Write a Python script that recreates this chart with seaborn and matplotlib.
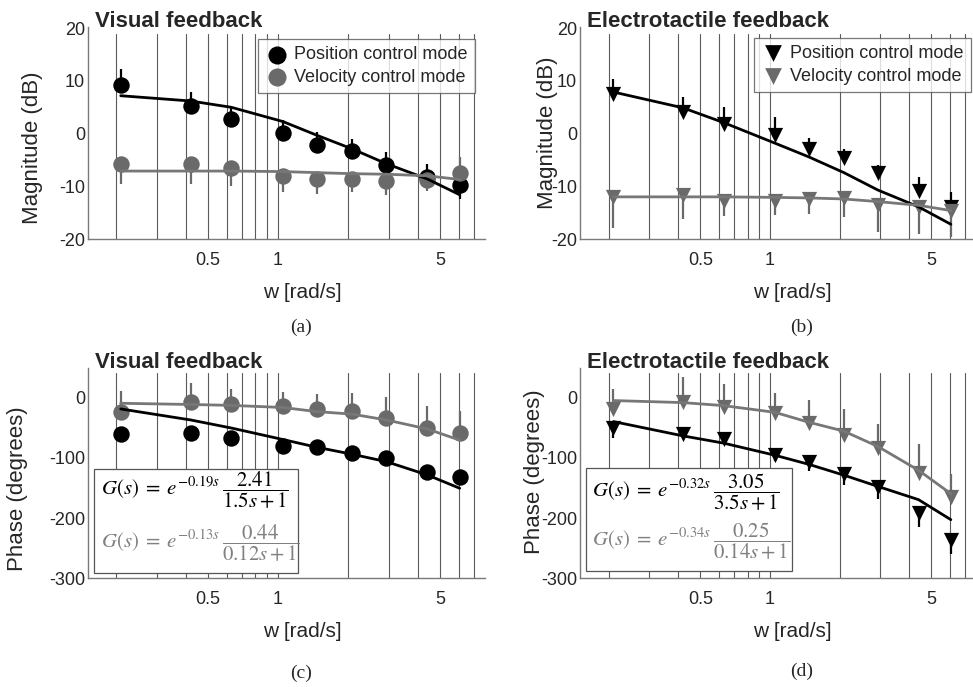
import matplotlib
matplotlib.use("Agg")
import matplotlib.pyplot as plt
import seaborn as sns
from matplotlib.patches import Rectangle

# test frequencies [rad/s]
w = [0.21, 0.42, 0.63, 1.05, 1.47, 2.09, 2.93, 4.40, 6.07]

# (a) visual feedback - magnitude [dB]
vis_mag_pos = [9.2, 5.2, 2.7, 0.1, -2.1, -3.3, -5.9, -8.3, -9.7]
vis_mag_pos_err = [3.1, 2.7, 2.1, 2.4, 2.4, 2.3, 2.4, 2.6, -2.7]
vis_mag_vel = [-5.7, -5.7, -6.5, -8.0, -8.7, -8.6, -8.9, -8.8, -7.5]
vis_mag_vel_err = [-3.8, -3.9, -3.5, -3.0, -2.8, -2.5, -2.7, -2.0, 3.0]
vis_mag_pos_fit = [7.2, 6.2, 5.0, 2.3, -0.3, -2.9, -5.7, -8.6, -11.6]
vis_mag_vel_fit = [-7.1, -7.1, -7.1, -7.2, -7.4, -7.6, -7.7, -8.0, -8.7]

# (b) electrotactile feedback - magnitude [dB]
el_mag_pos = [7.5, 4.1, 1.8, -0.3, -2.9, -4.6, -7.5, -10.8, -13.9]
el_mag_pos_err = [2.8, 2.8, 3.2, 3.4, 2.1, 1.7, 1.6, 2.5, 2.9]
el_mag_vel = [-12.1, -11.6, -12.7, -12.8, -12.4, -12.3, -13.5, -13.9, -14.6]
el_mag_vel_err = [-5.8, -4.6, -2.9, -2.6, -2.9, -3.6, -5.1, -5.1, -5.1]
el_mag_pos_fit = [7.9, 4.9, 2.1, -1.8, -4.4, -7.4, -10.7, -13.9, -17.2]
el_mag_vel_fit = [-12.0, -12.0, -12.0, -12.1, -12.2, -12.4, -12.9, -13.6, -14.6]

# (c) visual feedback - phase [deg]
vis_ph_pos = [-60.8, -58.6, -66.9, -80.6, -81.7, -91.7, -100.0, -124.0, -132.5]
vis_ph_vel = [-24.9, -8.3, -11.6, -14.4, -19.9, -22.7, -34.8, -50.3, -58.6]
vis_ph_vel_err = [36, 32, 25, 23, 26, 30, 36, 36, 35]
vis_ph_pos_fit = [-19.4, -37.6, -51.0, -70.0, -82.8, -94.4, -106.6, -128.6, -150.7]
vis_ph_vel_fit = [-10.0, -12.0, -13.5, -17.0, -23.8, -28.0, -37.6, -52.5, -71.0]

# (d) electrotactile feedback - phase [deg]
el_ph_pos = [-51.4, -60.8, -69.5, -96.0, -107.4, -126.6, -148.8, -191.7, -235.7]
el_ph_pos_err = [-16, -6, -6, -10, -14, -19, -19, -23, -23]
el_ph_vel = [-18.8, -7.8, -15.5, -25.6, -43.0, -61.7, -83.7, -125.6, -165.3]
el_ph_vel_err = [33, 41, 38, 32, 39, 42, 40, 49, 38]
el_ph_pos_fit = [-40.3, -64.0, -76.0, -96.0, -111.0, -129.0, -147.6, -169.6, -202.7]
el_ph_vel_fit = [-5.5, -8.9, -13.9, -25.0, -41.3, -56.2, -81.5, -121.0, -159.7]

grid_w = [0.2, 0.3, 0.4, 0.5, 0.6, 0.7, 0.8, 0.9, 1, 2, 3, 4, 5, 6, 7]

BLACK = "#000000"
GRAY = "#6a6a6a"
GRAY_LINE = "#777777"

sns.set_theme(style="white")
plt.rcParams["font.family"] = ["Liberation Sans", "DejaVu Sans"]
plt.rcParams["mathtext.fontset"] = "stix"
plt.rcParams["axes.unicode_minus"] = False

fig = plt.figure(figsize=(9.73, 6.87), dpi=100)
ax_a = fig.add_axes([0.0904, 0.6521, 0.408, 0.309])
ax_b = fig.add_axes([0.5961, 0.6521, 0.4039, 0.309])
ax_c = fig.add_axes([0.0904, 0.158, 0.408, 0.306])
ax_d = fig.add_axes([0.5961, 0.158, 0.4039, 0.306])


def errbars(ax, y, err, color):
    if err is None:
        return
    ax.vlines(w, y, [a + b for a, b in zip(y, err)], color=color, lw=1.6, zorder=2)


def panel(ax, title, marker, pos, pos_err, vel, vel_err, pos_fit, vel_fit,
          ylim, yticks, ylabel, xlim, grid_top, label_x, label_y):
    ax.set_xscale("log")
    for g in grid_w:
        ax.axvline(g, ymax=grid_top, color="#5a5a5a", lw=0.8, zorder=0.5)
    errbars(ax, pos, pos_err, BLACK)
    errbars(ax, vel, vel_err, GRAY)
    ms = 140 if marker == "o" else 120
    sns.scatterplot(x=w, y=pos, ax=ax, marker=marker, s=ms, color=BLACK,
                    linewidth=0, label="Position control mode", zorder=3)
    sns.scatterplot(x=w, y=vel, ax=ax, marker=marker, s=ms, color=GRAY,
                    linewidth=0, label="Velocity control mode", zorder=3)
    sns.lineplot(x=w, y=pos_fit, ax=ax, color=BLACK, lw=2, zorder=4)
    sns.lineplot(x=w, y=vel_fit, ax=ax, color=GRAY_LINE, lw=2, zorder=4)

    ax.set_xlim(*xlim)
    ax.set_ylim(*ylim)
    ax.set_yticks(yticks)
    ax.set_xticks([0.5, 1, 5])
    ax.set_xticklabels(["0.5", "1", "5"])
    ax.xaxis.set_minor_locator(matplotlib.ticker.NullLocator())
    ax.tick_params(axis="x", length=0, pad=9, labelsize=13)
    ax.tick_params(axis="y", direction="in", length=3, width=0.8,
                   color="#808080", pad=2, labelsize=13)
    for s in ["top", "right"]:
        ax.spines[s].set_visible(False)
    for s in ["left", "bottom"]:
        ax.spines[s].set_color("#7a7a7a")
        ax.spines[s].set_linewidth(1.0)
    ax.set_xlabel("w [rad/s]", fontsize=15)
    ax.set_ylabel(ylabel, fontsize=16)
    ax.xaxis.set_label_coords(0.54, -0.205)
    ax.yaxis.set_label_coords(label_x, label_y)
    ax.text(0.018, 1.0, title, transform=ax.transAxes, ha="left",
            va="baseline", fontsize=16, fontweight="bold")
    if ax.legend_:
        ax.legend_.remove()


panel(ax_a, "Visual feedback", "o", vis_mag_pos, vis_mag_pos_err, vis_mag_vel,
      vis_mag_vel_err, vis_mag_pos_fit, vis_mag_vel_fit, (-20, 20.3),
      [-20, -10, 0, 10, 20], "Magnitude (dB)", (0.1517, 7.8), 0.968, -0.113, 0.43)
panel(ax_b, "Electrotactile feedback", "v", el_mag_pos, el_mag_pos_err, el_mag_vel,
      el_mag_vel_err, el_mag_pos_fit, el_mag_vel_fit, (-20, 20.3),
      [-20, -10, 0, 10, 20], "Magnitude (dB)", (0.1504, 7.57), 0.968, -0.056, 0.50)
panel(ax_c, "Visual feedback", "o", vis_ph_pos, None, vis_ph_vel,
      vis_ph_vel_err, vis_ph_pos_fit, vis_ph_vel_fit, (-300, 48),
      [-300, -200, -100, 0], "Phase (degrees)", (0.1517, 7.8), 0.977, -0.151, 0.426)
panel(ax_d, "Electrotactile feedback", "v", el_ph_pos, el_ph_pos_err, el_ph_vel,
      el_ph_vel_err, el_ph_pos_fit, el_ph_vel_fit, (-300, 48),
      [-300, -200, -100, 0], "Phase (degrees)", (0.1504, 7.57), 0.977, -0.089, 0.51)

# legends on the magnitude plots
for ax, anchor in [(ax_a, (0.975, 0.942)), (ax_b, (0.995, 0.947))]:
    handles, labels = ax.get_legend_handles_labels()
    leg = ax.legend(handles[:2], labels[:2], loc="upper right", bbox_to_anchor=anchor,
                    borderaxespad=0, fontsize=13, frameon=True, fancybox=False,
                    handletextpad=0.3, handlelength=1.3, borderpad=0.4,
                    labelspacing=0.3, markerscale=1.1)
    leg.get_frame().set_edgecolor("#555555")
    leg.get_frame().set_linewidth(0.9)
    leg.set_zorder(6)

# transfer function boxes on the phase plots
formulas = {
    ax_c: (r"$G(s)\;=\;e^{-0.19s}\,\dfrac{2.41}{1.5s+1}$",
           r"$G(s)\;=\;e^{-0.13s}\,\dfrac{0.44}{0.12s+1}$",
           (0.016, 0.025, 0.514, 0.495), 0.033, 0.42, 0.167),
    ax_d: (r"$G(s)\;=\;e^{-0.32s}\,\dfrac{3.05}{3.5s+1}$",
           r"$G(s)\;=\;e^{-0.34s}\,\dfrac{0.25}{0.14s+1}$",
           (0.015, 0.036, 0.525, 0.491), 0.03, 0.407, 0.175),
}
for ax, (f1, f2, box, tx, ty1, ty2) in formulas.items():
    ax.add_patch(Rectangle((box[0], box[1]), box[2], box[3], transform=ax.transAxes,
                           facecolor="white", edgecolor="#555555", lw=0.9, zorder=6))
    ax.text(tx, ty1, f1, transform=ax.transAxes, fontsize=15, color=BLACK,
            va="center", ha="left", zorder=7)
    ax.text(tx, ty2, f2, transform=ax.transAxes, fontsize=15, color="#808080",
            va="center", ha="left", zorder=7)

# sub captions
for label, x, y in [("(a)", 301, 327), ("(b)", 802, 327), ("(c)", 301, 673), ("(d)", 802, 671)]:
    fig.text(x / 973, 1 - y / 687, label, ha="center", va="center", fontsize=14,
             family="Liberation Serif")

fig.savefig("out.png", dpi=100)
